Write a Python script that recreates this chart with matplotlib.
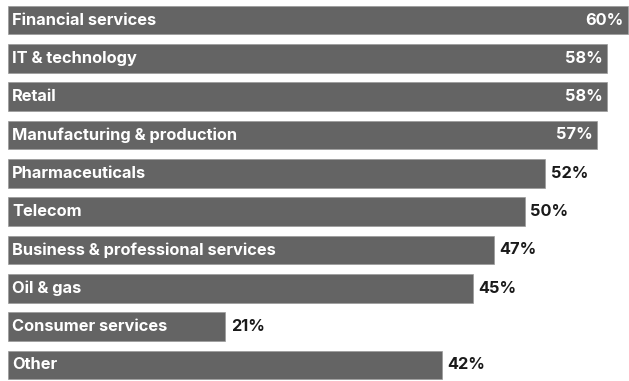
import matplotlib
matplotlib.use("Agg")
import matplotlib.pyplot as plt

categories = ["Financial services", "IT & technology", "Retail",
              "Manufacturing & production", "Pharmaceuticals", "Telecom",
              "Business & professional services", "Oil & gas",
              "Consumer services", "Other"]
values = [60, 58, 58, 57, 52, 50, 47, 45, 21, 42]

plt.rcParams["font.family"] = ["Inter", "DejaVu Sans"]

fig = plt.figure(figsize=(6.29, 3.81), dpi=100)
ax = fig.add_axes([0, 0, 1, 1])
pos = list(range(len(categories)))
ax.barh(pos, values, height=0.74, color="#646464", edgecolor="#9a9a9a", linewidth=0.5)

for i, (cat, v) in enumerate(zip(categories, values)):
    ax.text(0.4, i, cat, color="white", fontsize=11.8, fontweight="bold",
            va="center", ha="left")
    if v >= 55:
        ax.text(v - 0.45, i, f"{v}%", color="white", fontsize=11.8,
                fontweight="bold", va="center", ha="right")
    else:
        ax.text(v + 0.55, i, f"{v}%", color="#1a1a1a", fontsize=11.8,
                fontweight="bold", va="center", ha="left")

ax.set_xlim(-0.78, 60.1)
ax.set_ylim(9.418, -0.522)
ax.axis("off")
fig.savefig("out.png", dpi=100)
